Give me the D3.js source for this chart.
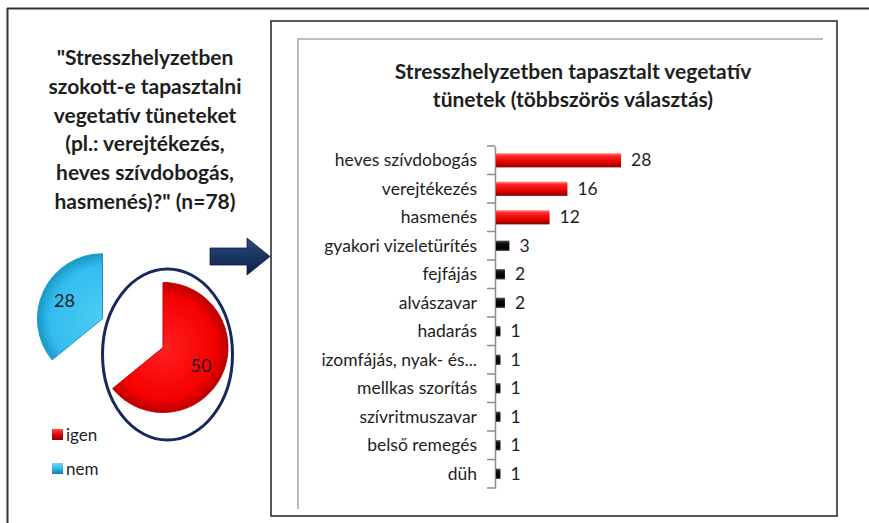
<!DOCTYPE html>
<html>
<head>
<meta charset="utf-8">
<script src="https://cdn.jsdelivr.net/npm/d3@7"></script>
<style>
  html, body { margin: 0; padding: 0; background: #fff; }
  svg { display: block; }
  text { font-family: Lato, "Open Sans", sans-serif; }
</style>
</head>
<body>
<svg id="chart" width="869" height="523"></svg>
<script>
// ---------- data ----------
const questionLines = ["\"Stresszhelyzetben", "szokott-e tapasztalni", "vegetatív tüneteket", "(pl.: verejtékezés,", "heves szívdobogás,", "hasmenés)?\" (n=78)"];
const pieLabels = ["igen", "nem"];
const pieValues = [50, 28];
const chartTitleLines = ["Stresszhelyzetben tapasztalt vegetatív", "tünetek (többszörös választás)"];
const categories = ["heves szívdobogás", "verejtékezés", "hasmenés", "gyakori vizeletürítés", "fejfájás", "alvászavar", "hadarás", "izomfájás, nyak- és...", "mellkas szorítás", "szívritmuszavar", "belső remegés", "düh"];
const values = [28, 16, 12, 3, 2, 2, 1, 1, 1, 1, 1, 1];

// ---------- setup ----------
const svg = d3.select("#chart");
const defs = svg.append("defs");

function linGrad(id, stops, vertical = true) {
  const g = defs.append("linearGradient").attr("id", id)
    .attr("x1", 0).attr("y1", 0).attr("x2", vertical ? 0 : 1).attr("y2", vertical ? 1 : 0);
  stops.forEach(([o, c]) => g.append("stop").attr("offset", o).attr("stop-color", c));
}
function radGrad(id, stops) {
  const g = defs.append("radialGradient").attr("id", id).attr("gradientUnits", "userSpaceOnUse");
  stops.forEach(([o, c]) => g.append("stop").attr("offset", o).attr("stop-color", c));
  return g;
}
linGrad("redBar", [[0, "#ff9a9a"], [0.18, "#ff2a2a"], [0.6, "#e80000"], [1, "#8a0000"]]);
linGrad("blackBar", [[0, "#5a5a5a"], [0.25, "#111"], [0.75, "#000"], [1, "#333"]]);
linGrad("arrowGrad", [[0, "#2c4a7c"], [0.5, "#1a3563"], [1, "#0e2145"]]);
linGrad("legRed", [[0, "#ff5050"], [0.5, "#e00000"], [1, "#900000"]]);
linGrad("legBlue", [[0, "#70d8f8"], [0.5, "#30b8e8"], [1, "#0a80b0"]]);

// ---------- frames ----------
svg.append("line").attr("x1", 7).attr("x2", 869).attr("y1", 8.5).attr("y2", 8.5).attr("stroke", "#333").attr("stroke-width", 2);
svg.append("line").attr("x1", 7.5).attr("x2", 7.5).attr("y1", 8).attr("y2", 523).attr("stroke", "#333").attr("stroke-width", 2);
svg.append("rect").attr("x", 271).attr("y", 21).attr("width", 566).attr("height", 495)
  .attr("fill", "#fff").attr("stroke", "#222").attr("stroke-width", 1.5);
// plot area gray frame (top + left)
svg.append("path").attr("d", "M298,509 V39 H823").attr("fill", "none").attr("stroke", "#a6a6a6").attr("stroke-width", 1.5);

// ---------- left question title ----------
const qTitle = svg.append("text").attr("text-anchor", "middle").attr("font-weight", "bold")
  .attr("font-size", 21).attr("fill", "#1e1e1e");
questionLines.forEach((l, i) => qTitle.append("tspan").attr("x", 145).attr("y", 65 + i * 28.8).text(l));

// ---------- pie ----------
const pieR = 65;
const pieCx = 163, pieCy = 347.5;
const pie = d3.pie().sort(null).value(d => d)(pieValues);
const arc = d3.arc().innerRadius(0).outerRadius(pieR);
const labelArc = d3.arc().innerRadius(42).outerRadius(42);
const explode = [0, 67];
const pieG = svg.append("g").attr("transform", `translate(${pieCx},${pieCy})`);
radGrad("pieRed", [[0, "#ff2020"], [0.8, "#f50000"], [1, "#b80000"]]).attr("cx", 0).attr("cy", 0).attr("r", pieR);
radGrad("pieBlue", [[0, "#4cccf4"], [0.8, "#33bdee"], [1, "#1a98c8"]]).attr("cx", 0).attr("cy", 0).attr("r", pieR);
const pieFills = ["url(#pieRed)", "url(#pieBlue)"];
const slices = pieG.selectAll("g.slice").data(pie).join("g").attr("class", "slice")
  .attr("transform", (d, i) => {
    const a = (d.startAngle + d.endAngle) / 2;
    return `translate(${Math.sin(a) * explode[i]},${-Math.cos(a) * explode[i]})`;
  });
slices.append("path").attr("d", arc).attr("fill", (d, i) => pieFills[i])
  .attr("stroke", (d, i) => i === 0 ? "#c80000" : "#1a98c8").attr("stroke-width", 1);
slices.append("text").attr("transform", d => `translate(${labelArc.centroid(d)})`)
  .attr("text-anchor", "middle").attr("dy", "0.35em").attr("font-size", 18).attr("fill", "#1e1e1e")
  .text(d => d.data);

// highlight ellipse
svg.append("ellipse").attr("cx", 167.5).attr("cy", 354.5).attr("rx", 65).attr("ry", 85.5)
  .attr("fill", "none").attr("stroke", "#17295a").attr("stroke-width", 3);

// legend
const legFills = ["url(#legRed)", "url(#legBlue)"];
const leg = svg.append("g").selectAll("g").data(pieLabels).join("g")
  .attr("transform", (d, i) => `translate(52,${429 + i * 34})`);
leg.append("rect").attr("width", 11).attr("height", 11).attr("fill", (d, i) => legFills[i]);
leg.append("text").attr("x", 14).attr("y", 6).attr("dy", "0.35em").attr("font-size", 17).attr("fill", "#1e1e1e").text(d => d);

// arrow
svg.append("path").attr("d", "M210,248 H247 V238 L270,256.5 L247,275 V265 H210 Z")
  .attr("fill", "url(#arrowGrad)").attr("stroke", "#0e2145").attr("stroke-width", 0.8);

// ---------- bar chart ----------
const ctitle = svg.append("text").attr("text-anchor", "middle").attr("font-weight", "bold")
  .attr("font-size", 21).attr("fill", "#1e1e1e");
chartTitleLines.forEach((l, i) => ctitle.append("tspan").attr("x", 573).attr("y", 79 + i * 28).text(l));

const x = d3.scaleLinear().domain([0, 28]).range([496, 621]);
const y = d3.scaleBand().domain(categories).range([146, 488]).paddingInner(0.5).paddingOuter(0.25);

// axis line with ticks at category boundaries
const axisG = svg.append("g").attr("transform", "translate(495,0)")
  .call(d3.axisLeft(y).tickSize(0).tickSizeOuter(0).tickFormat(""));
axisG.select(".domain").attr("stroke", "#8c8c8c").attr("stroke-width", 1.5);
const bounds = categories.map(c => y(c) - y.step() * y.paddingInner() / 2).concat([488]);
axisG.selectAll("line.bnd").data(bounds).join("line").attr("class", "bnd")
  .attr("x1", -8).attr("x2", 0).attr("y1", d => d).attr("y2", d => d)
  .attr("stroke", "#8c8c8c").attr("stroke-width", 1.5);

// category labels
svg.append("g").selectAll("text").data(categories).join("text")
  .attr("x", 477).attr("y", d => y(d) + y.bandwidth() / 2).attr("dy", "0.35em")
  .attr("text-anchor", "end").attr("font-size", 17.5).attr("fill", "#1e1e1e").text(d => d);

// bars
const barData = categories.map((c, i) => ({ c, v: values[i] }));
svg.append("g").selectAll("rect").data(barData).join("rect")
  .attr("x", x(0))
  .attr("y", d => d.v >= 10 ? y(d.c) : y(d.c) + 2)
  .attr("height", d => d.v >= 10 ? y.bandwidth() : y.bandwidth() - 4)
  .attr("width", d => x(d.v) - x(0))
  .attr("fill", d => d.v >= 10 ? "url(#redBar)" : "url(#blackBar)");

// value labels
svg.append("g").selectAll("text").data(barData).join("text")
  .attr("x", d => x(d.v) + 10).attr("y", d => y(d.c) + y.bandwidth() / 2).attr("dy", "0.35em")
  .attr("font-size", 17.5).attr("fill", "#1e1e1e").text(d => d.v);
</script>
</body>
</html>
